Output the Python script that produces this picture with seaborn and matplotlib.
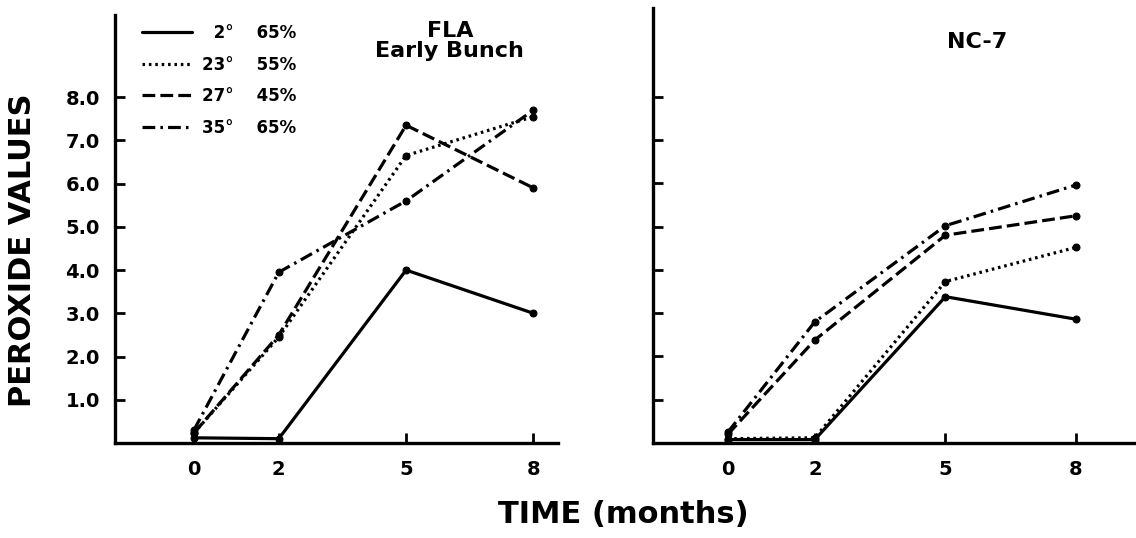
import matplotlib
matplotlib.use("Agg")
import matplotlib.pyplot as plt
from matplotlib.lines import Line2D
import seaborn as sns
import pandas as pd

# Storage time (months) and peroxide values per storage condition
months = [0, 2, 5, 8]
month_labels = ["0", "2", "5", "8"]
temps = ["\u20072°", "23°", "27°", "35°"]
humidity = ["65%", "55%", "45%", "65%"]

fla_2 = [0.12, 0.10, 4.00, 3.00]
fla_23 = [0.23, 2.45, 6.65, 7.55]
fla_27 = [0.23, 2.50, 7.35, 5.90]
fla_35 = [0.30, 3.95, 5.60, 7.70]

nc7_2 = [0.08, 0.08, 3.38, 2.86]
nc7_23 = [0.10, 0.12, 3.73, 4.52]
nc7_27 = [0.20, 2.38, 4.80, 5.25]
nc7_35 = [0.25, 2.80, 5.02, 5.96]

y_ticks = [1, 2, 3, 4, 5, 6, 7, 8]
y_tick_labels = ["1.0", "2.0", "3.0", "4.0", "5.0", "6.0", "7.0", "8.0"]

sns.set_style("ticks")
plt.rcParams["font.family"] = ["DejaVu Sans"]
plt.rcParams["font.weight"] = "bold"
for key in ("text.color", "axes.labelcolor", "xtick.color", "ytick.color",
            "axes.edgecolor"):
    plt.rcParams[key] = "black"

line_styles = ["-", (0, (0.8, 1.2)), (0, (4.0, 1.6)), (0, (4.0, 1.6, 0.8, 1.6))]
LW = 2.3

fig = plt.figure(figsize=(11.36, 5.38), dpi=100)
ax_l = fig.add_axes([115 / 1136, 95 / 538, 443 / 1136, 428 / 538])
ax_r = fig.add_axes([653 / 1136, 95 / 538, 483 / 1136, 435 / 538])


def draw_panel(ax, series):
    for vals, ls in zip(series, line_styles):
        df = pd.DataFrame({"month": months, "pv": vals})
        sns.lineplot(data=df, x="month", y="pv", ax=ax, color="black",
                     linestyle=ls, linewidth=LW, marker="o", markersize=5,
                     markerfacecolor="black", markeredgecolor="black",
                     estimator=None, sort=False)
    ax.set_xlabel("")
    ax.set_ylabel("")
    for side in ("top", "right"):
        ax.spines[side].set_visible(False)
    for side in ("left", "bottom"):
        ax.spines[side].set_linewidth(2.4)
        ax.spines[side].set_color("black")
    ax.set_xticks(months)
    ax.set_yticks(y_ticks)
    ax.tick_params(axis="both", direction="in", length=7, width=2,
                   color="black", labelcolor="black", labelsize=14)
    ax.tick_params(axis="x", pad=12)
    ax.tick_params(axis="y", pad=11)


draw_panel(ax_l, [fla_2, fla_23, fla_27, fla_35])
draw_panel(ax_r, [nc7_2, nc7_23, nc7_27, nc7_35])

ax_l.set_xlim(-1.86, 8.58)
ax_l.set_ylim(0, 9.9)
ax_l.set_xticklabels(month_labels, fontweight="bold")
ax_l.set_yticklabels(y_tick_labels, fontweight="bold")

ax_r.set_xlim(-1.72, 9.38)
ax_r.set_ylim(0, 10.05)
ax_r.set_xticklabels(month_labels, fontweight="bold")
ax_r.set_yticklabels([])

# Panel titles
ax_l.text(0.756, 0.985, "FLA\nEarly Bunch", transform=ax_l.transAxes,
          ha="center", va="top", fontsize=16, fontweight="bold",
          linespacing=0.95, color="black")
ax_r.text(0.671, 0.945, "NC-7", transform=ax_r.transAxes,
          ha="center", va="top", fontsize=16, fontweight="bold",
          color="black")

# Storage-condition key
handles = [Line2D([], [], color="black", linestyle=ls, linewidth=LW)
           for ls in line_styles]
labels = [f"{t}    {h}" for t, h in zip(temps, humidity)]
leg = ax_l.legend(handles, labels, loc="upper left",
                  bbox_to_anchor=(142 / 1136, 1 - 24 / 538),
                  bbox_transform=fig.transFigure, frameon=False,
                  borderpad=0, borderaxespad=0, handlelength=3.0,
                  handletextpad=0.6, labelspacing=0.82,
                  prop={"size": 12, "weight": "bold"})
for t in leg.get_texts():
    t.set_color("black")

fig.text(23 / 1136, 1 - 250 / 538, "PEROXIDE VALUES", rotation=90,
         ha="center", va="center", fontsize=22, fontweight="bold",
         color="black")
fig.text(623 / 1136, 1 - 523 / 538, "TIME (months)", ha="center",
         va="baseline", fontsize=22, fontweight="bold", color="black")

fig.savefig("out.png", dpi=100)
